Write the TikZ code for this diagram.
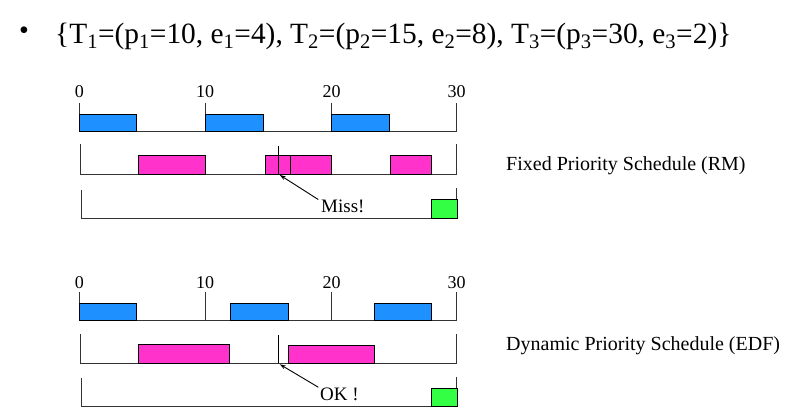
\documentclass[tikz,border=0pt]{standalone}
\usepackage{fontspec}
\setmainfont{Liberation Serif}
\usetikzlibrary{arrows.meta}
\definecolor{tblue}{RGB}{30,144,255}
\definecolor{tpink}{RGB}{255,51,204}
\definecolor{tgreen}{RGB}{51,255,68}
\tikzset{
  axis/.style={draw=black!80, line width=0.9pt},
  bluebox/.style={draw=black, fill=tblue, line width=0.9pt},
  pinkbox/.style={draw=black, fill=tpink, line width=0.9pt},
  greenbox/.style={draw=black, fill=tgreen, line width=0.9pt},
  ticklbl/.style={anchor=base, inner sep=0pt, font=\fontsize{18}{20}\selectfont},
  lbl/.style={anchor=base west, inner sep=0pt, font=\fontsize{20}{22}\selectfont},
  pointer/.style={draw=black, line width=0.9pt, -{Stealth[length=6pt,width=4pt]}}
}
\begin{document}
\begin{tikzpicture}[x=1pt,y=-1pt]
\useasboundingbox (0,0) rectangle (792,416);
% title
\node[anchor=center, inner sep=0pt, font=\fontsize{28}{30}\selectfont] (bullet) at (24,33) {•};
\node[anchor=base west, inner sep=0pt, font=\fontsize{29.4}{31}\selectfont] (title) at (55,43.3)
  {\{T\textsubscript{1}=(p\textsubscript{1}=10, e\textsubscript{1}=4), T\textsubscript{2}=(p\textsubscript{2}=15, e\textsubscript{2}=8), T\textsubscript{3}=(p\textsubscript{3}=30, e\textsubscript{3}=2)\}};

% ===== RM =====
\node[ticklbl] (a0) at (79.3,97.5) {0};
\node[ticklbl] (a10) at (205,97.5) {10};
\node[ticklbl] (a20) at (331.7,97.5) {20};
\node[ticklbl] (a30) at (456.7,97.5) {30};
% row 1
\draw[axis] (79.3,103.3) -- (79.3,131.7) -- (456.7,131.7) -- (456.7,103.3);
\draw[axis] (205,103.3) -- (205,131.7);
\draw[axis] (331.7,103.3) -- (331.7,131.7);
\draw[bluebox] (79.3,114.3) rectangle (136.7,131.7);
\draw[bluebox] (205,114.3) rectangle (263.3,131.7);
\draw[bluebox] (331.7,114.3) rectangle (389.3,131.7);
% row 2
\draw[axis] (80,144.3) -- (80,174) -- (456.7,174) -- (456.7,144.3);
\draw[pinkbox] (138.3,155.3) rectangle (205.7,174);
\draw[pinkbox] (265.7,155.3) rectangle (331.7,174);
\draw[pinkbox] (290.7,155.3) -- (290.7,174);
\draw[pinkbox] (390.7,155.3) rectangle (431.7,174);
\coordinate (missat) at (278.3,174);
\draw[axis, draw=black] (278.3,145.7) -- (missat);
% row 3
\draw[axis] (81.7,190) -- (81.7,218.3) -- (456.7,218.3) -- (456.7,188.3);
\draw[greenbox] (431.7,199.3) rectangle (457.7,218.3);
\node[lbl, font=\fontsize{19}{21}\selectfont] (miss) at (321,212.3) {Miss!};
\draw[pointer] ([xshift=-2.7pt]miss.north west) -- ([xshift=1.5pt,yshift=-1pt]missat);
\node[lbl] (rm) at (506,170) {Fixed Priority Schedule (RM)};

% ===== EDF =====
\node[ticklbl] (b0) at (79.3,288) {0};
\node[ticklbl] (b10) at (205,288) {10};
\node[ticklbl] (b20) at (331.7,288) {20};
\node[ticklbl] (b30) at (456.7,288) {30};
% row 1
\draw[axis] (79.3,291.7) -- (79.3,320.7) -- (456.7,320.7) -- (456.7,291.7);
\draw[axis] (205,291.7) -- (205,320.7);
\draw[axis] (331.7,291.7) -- (331.7,320.7);
\draw[bluebox] (79.3,303.3) rectangle (136.7,320.7);
\draw[bluebox] (230.7,303.3) rectangle (288.3,320.7);
\draw[bluebox] (374.3,303.3) rectangle (431.7,320.7);
% row 2
\draw[axis] (80,334) -- (80,363.3) -- (456.7,363.3) -- (456.7,334);
\draw[pinkbox] (138.3,344.3) rectangle (229.3,363.3);
\draw[pinkbox] (288.3,345.7) rectangle (374.3,363.3);
\coordinate (okat) at (278.3,363.3);
\draw[axis, draw=black] (278.3,335) -- (okat);
% row 3
\draw[axis] (81.7,378.3) -- (81.7,406.7) -- (456.7,406.7) -- (456.7,376.7);
\draw[greenbox] (431.7,388.3) rectangle (457.7,406.7);
\node[lbl, font=\fontsize{19}{21}\selectfont] (ok) at (320,400) {OK !};
\draw[pointer] ([xshift=-1.7pt]ok.north west) -- ([xshift=1.5pt,yshift=-1pt]okat);
\node[lbl] (edf) at (506,350.7) {Dynamic Priority Schedule (EDF)};
\end{tikzpicture}
\end{document}
